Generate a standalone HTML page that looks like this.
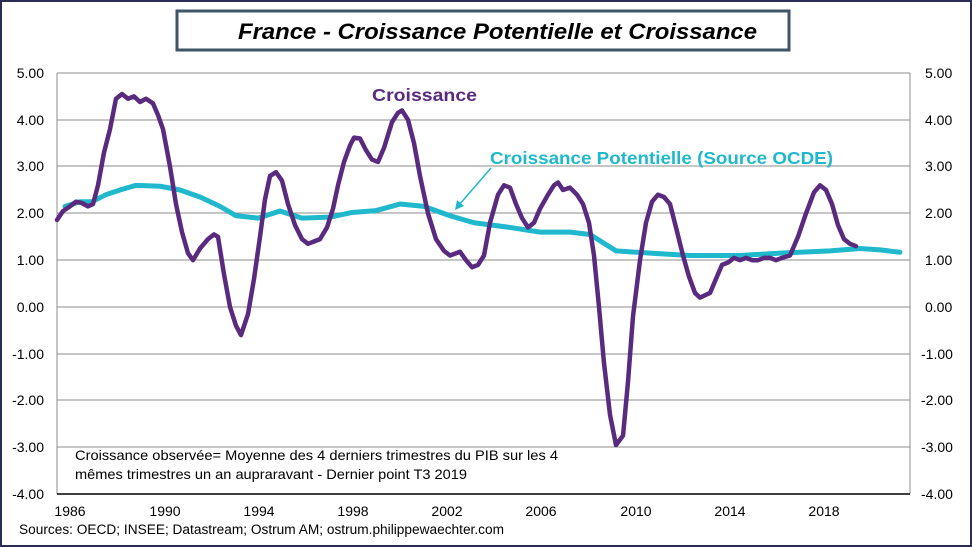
<!DOCTYPE html>
<html><head><meta charset="utf-8"><style>
body{margin:0;background:#fff}
svg{display:block;font-family:"Liberation Sans",sans-serif}
</style></head><body>
<svg width="972" height="547" viewBox="0 0 972 547" xmlns="http://www.w3.org/2000/svg">
<rect x="1" y="1" width="970" height="545" fill="#fff" stroke="#2a2a55" stroke-width="2"/>
<rect x="177" y="11" width="612" height="39" fill="#fff" stroke="#3d5566" stroke-width="3"/>
<text x="238" y="39" textLength="519" lengthAdjust="spacingAndGlyphs" font-size="22" font-weight="bold" font-style="italic" fill="#000">France - Croissance  Potentielle et Croissance</text>
<g stroke="#8c8c8c" stroke-width="1">
<line x1="57" y1="73" x2="910" y2="73"/><line x1="57" y1="120" x2="910" y2="120"/>
<line x1="57" y1="166" x2="910" y2="166"/><line x1="57" y1="213" x2="910" y2="213"/>
<line x1="57" y1="260" x2="910" y2="260"/><line x1="57" y1="307" x2="910" y2="307"/>
<line x1="57" y1="354" x2="910" y2="354"/><line x1="57" y1="400" x2="910" y2="400"/>
<line x1="57" y1="447" x2="910" y2="447"/>
<line x1="57" y1="73" x2="57" y2="494"/><line x1="910" y1="73" x2="910" y2="494"/>
</g>
<line x1="57" y1="494" x2="910" y2="494" stroke="#000" stroke-width="1.5"/>
<g font-size="14" fill="#000" text-anchor="end">
<text x="44" y="78">5.00</text><text x="44" y="125">4.00</text><text x="44" y="171">3.00</text>
<text x="44" y="218">2.00</text><text x="44" y="265">1.00</text><text x="44" y="312">0.00</text>
<text x="44" y="359">-1.00</text><text x="44" y="405">-2.00</text><text x="44" y="452">-3.00</text>
<text x="44" y="499">-4.00</text>
</g>
<g font-size="14" fill="#000" text-anchor="start">
<text x="925" y="78">5.00</text><text x="925" y="125">4.00</text><text x="925" y="171">3.00</text>
<text x="925" y="218">2.00</text><text x="925" y="265">1.00</text><text x="925" y="312">0.00</text>
<text x="921" y="359">-1.00</text><text x="921" y="405">-2.00</text><text x="921" y="452">-3.00</text>
<text x="921" y="499">-4.00</text>
</g>
<g font-size="14" fill="#000" text-anchor="middle">
<text x="70" y="516">1986</text><text x="165" y="516">1990</text><text x="259" y="516">1994</text>
<text x="353" y="516">1998</text><text x="447" y="516">2002</text><text x="541" y="516">2006</text>
<text x="636" y="516">2010</text><text x="730" y="516">2014</text><text x="824" y="516">2018</text>
</g>
<text x="19" y="534" textLength="485" lengthAdjust="spacingAndGlyphs" font-size="13.5" fill="#000">Sources: OECD; INSEE; Datastream; Ostrum AM; ostrum.philippewaechter.com</text>
<text x="75" y="460" textLength="483" lengthAdjust="spacingAndGlyphs" font-size="14" fill="#000">Croissance observée= Moyenne  des 4 derniers trimestres du PIB sur les 4</text>
<text x="75" y="479" textLength="392" lengthAdjust="spacingAndGlyphs" font-size="14" fill="#000">mêmes trimestres un an aupraravant  - Dernier point T3 2019</text>
<g transform="translate(0,307) scale(1,-46.8)" fill="none" stroke-linejoin="round" stroke-linecap="round">
<polyline vector-effect="non-scaling-stroke" stroke="#1fb8cc" stroke-width="5" points="65,2.15 80,2.25 92,2.25 106,2.4 120,2.5 136,2.6 160,2.58 180,2.5 200,2.35 220,2.15 236,1.95 258,1.9 280,2.05 302,1.9 330,1.92 352,2.02 376,2.06 400,2.2 424,2.15 450,1.95 474,1.8 510,1.7 540,1.6 570,1.6 590,1.55 616,1.2 650,1.15 690,1.1 740,1.1 780,1.15 830,1.2 860,1.25 880,1.22 900,1.17"/>
<polyline vector-effect="non-scaling-stroke" stroke="#5a2a7e" stroke-width="4.5" points="57,1.86 63,2.05 70,2.15 76,2.25 82,2.22 88,2.15 93,2.2 98,2.6 104,3.3 110,3.8 116,4.45 122,4.55 128,4.45 134,4.5 140,4.38 146,4.45 153,4.35 158,4.1 163,3.8 170,3.0 176,2.2 182,1.6 188,1.15 193,1.0 200,1.25 208,1.45 214,1.55 218,1.5 224,0.7 230,0.0 236,-0.4 241,-0.6 248,-0.15 254,0.6 260,1.5 265,2.3 270,2.8 276,2.88 282,2.7 288,2.2 295,1.75 302,1.45 308,1.35 314,1.4 320,1.45 327,1.7 333,2.1 338,2.6 344,3.1 350,3.45 354,3.62 360,3.6 366,3.35 372,3.15 378,3.1 384,3.4 392,3.95 398,4.15 402,4.2 408,4.0 414,3.5 420,2.8 428,2.0 436,1.45 444,1.2 450,1.1 460,1.18 466,1.0 472,0.85 478,0.9 484,1.1 490,1.8 498,2.4 504,2.6 510,2.55 516,2.2 522,1.9 528,1.7 534,1.8 540,2.1 548,2.4 554,2.6 558,2.66 563,2.5 570,2.55 577,2.4 583,2.2 589,1.8 594,1.1 599,0.0 604,-1.2 610,-2.3 616,-2.95 623,-2.75 628,-1.6 633,-0.2 640,1.0 646,1.8 652,2.25 658,2.4 664,2.35 670,2.2 676,1.7 683,1.1 689,0.65 695,0.3 700,0.2 710,0.3 716,0.6 722,0.9 728,0.95 734,1.05 740,1.0 746,1.05 752,1.0 758,1.0 764,1.05 770,1.05 776,1.0 782,1.05 790,1.1 798,1.5 806,2.0 814,2.45 820,2.6 826,2.5 832,2.2 838,1.75 844,1.45 850,1.35 856,1.3"/>
</g>
<text x="372" y="101" textLength="105" lengthAdjust="spacingAndGlyphs" font-size="17.5" font-weight="bold" fill="#5a2a7e">Croissance</text>
<text x="490" y="164" textLength="343" lengthAdjust="spacingAndGlyphs" font-size="17.5" font-weight="bold" fill="#1fb8cc">Croissance Potentielle (Source OCDE)</text>
<line x1="491" y1="168" x2="459" y2="205" stroke="#1fb8cc" stroke-width="1.5"/>
<polygon points="455,210 457,200 464,206" fill="#1fb8cc"/>
</svg>
</body></html>
